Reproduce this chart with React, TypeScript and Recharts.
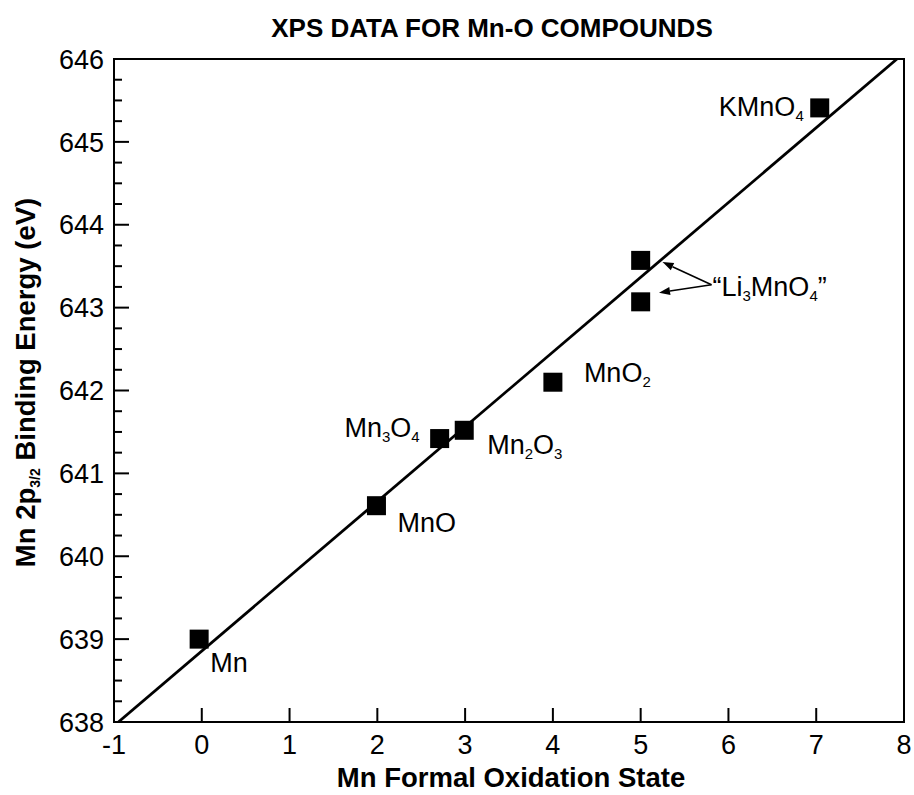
import React from 'react';
import { ScatterChart, Scatter, XAxis, YAxis, ReferenceLine, ReferenceArea, ReferenceDot } from 'recharts';

// ---- data ----
const compounds = ['Mn', 'MnO', 'Mn3O4', 'Mn2O3', 'MnO2', 'Li3MnO4 (a)', 'Li3MnO4 (b)', 'KMnO4'];
const oxidationStates = [-0.03, 1.99, 2.71, 2.99, 4.0, 5.0, 5.0, 7.04];
const bindingEnergies = [639.0, 640.61, 641.42, 641.52, 642.1, 643.57, 643.07, 645.41];

// least-squares line as drawn (end points)
const fitX = [-0.95, 7.92];
const fitY = [638.0, 646.0];

const xTicks = [-1, 0, 1, 2, 3, 4, 5, 6, 7, 8];
const yMajorTicks = [638, 639, 640, 641, 642, 643, 644, 645, 646];

// "Li3MnO4" annotation: label anchor and arrow tips (data units)
const annoAnchor = { x: 5.807, y: 643.277 };
const annoTipsX = [5.249, 5.209];
const annoTipsY = [643.55, 643.18];

const title = 'XPS DATA FOR Mn-O COMPOUNDS';
const xTitle = 'Mn Formal Oxidation State';

// formula text pieces: n = normal, s = subscript
const formulaParts: Record<string, [string, string][]> = {
  Mn: [['Mn', 'n']],
  MnO: [['MnO', 'n']],
  Mn3O4: [['Mn', 'n'], ['3', 's'], ['O', 'n'], ['4', 's']],
  Mn2O3: [['Mn', 'n'], ['2', 's'], ['O', 'n'], ['3', 's']],
  MnO2: [['MnO', 'n'], ['2', 's']],
  KMnO4: [['KMnO', 'n'], ['4', 's']],
};
const annoParts: [string, string][] = [['\u201CLi', 'n'], ['3', 's'], ['MnO', 'n'], ['4', 's'], ['\u201D', 'n']];

// ---- layout / style ----
const W = 914;
const H = 795;
const FONT = '"Liberation Sans", Arial, Helvetica, sans-serif';
const labelPlacement: Record<string, { dx: number; dy: number; anchor: 'start' | 'end' }> = {
  Mn: { dx: 11, dy: 33, anchor: 'start' },
  MnO: { dx: 21, dy: 26, anchor: 'start' },
  Mn3O4: { dx: -20, dy: -2, anchor: 'end' },
  Mn2O3: { dx: 23, dy: 24, anchor: 'start' },
  MnO2: { dx: 31, dy: 0, anchor: 'start' },
  KMnO4: { dx: -16, dy: 8, anchor: 'end' },
};

const points = compounds.map((name, i) => ({ name, x: oxidationStates[i], y: bindingEnergies[i] }));
const fitLine = fitX.map((x, i) => ({ x, y: fitY[i] }));
const yTicks: number[] = [];
yMajorTicks.forEach((m, i) => {
  yTicks.push(m);
  if (i < yMajorTicks.length - 1) {
    yTicks.push(m + 0.25, m + 0.5, m + 0.75);
  }
});

const ChemText = ({ x, y, anchor, parts, size = 27, sub = 15, shiftPx = 5 }: any) => {
  let shift = 0;
  return (
    <text x={x} y={y} textAnchor={anchor} fontSize={size} fontFamily={FONT} fill="#000">
      {parts.map(([t, kind]: [string, string], i: number) => {
        const target = kind === 's' ? shiftPx : 0;
        const dy = target - shift;
        shift = target;
        return (
          <tspan key={i} dy={dy} fontSize={kind === 's' ? sub : size}>
            {t}
          </tspan>
        );
      })}
    </text>
  );
};

const PointShape = (props: any) => {
  const { cx, cy, payload } = props;
  if (cx == null || cy == null) return <g />;
  const key = payload.name as string;
  const place = labelPlacement[key];
  return (
    <g>
      <rect x={cx - 9.5} y={cy - 9.5} width={19} height={19} fill="#000" />
      {place && formulaParts[key] && (
        <ChemText x={cx + place.dx} y={cy + place.dy} anchor={place.anchor} parts={formulaParts[key]} />
      )}
    </g>
  );
};

const YTick = (props: any) => {
  const { x, y, payload } = props;
  const v = payload.value as number;
  const major = Math.abs(v - Math.round(v)) < 1e-6;
  return (
    <g>
      <line x1={x} x2={x + (major ? 15 : 8)} y1={y} y2={y} stroke="#000" strokeWidth={2} />
      {major && (
        <text x={x - 10} y={y} dy="0.36em" textAnchor="end" fontSize={27} fontFamily={FONT} fill="#000">
          {v}
        </text>
      )}
    </g>
  );
};

const XTick = (props: any) => {
  const { x, y, payload } = props;
  return (
    <g>
      <line x1={x} x2={x} y1={y} y2={y - 14} stroke="#000" strokeWidth={2} />
      <text x={x} y={y + 32} textAnchor="middle" fontSize={27} fontFamily={FONT} fill="#000">
        {payload.value}
      </text>
    </g>
  );
};

const Arrow = (props: any) => {
  const { x1, y1, x2, y2 } = props;
  if ([x1, y1, x2, y2].some((v) => v == null || isNaN(v))) return <g />;
  const ang = Math.atan2(y2 - y1, x2 - x1);
  const len = 11;
  const half = 4;
  const bx = x2 - len * Math.cos(ang);
  const by = y2 - len * Math.sin(ang);
  const px = -Math.sin(ang) * half;
  const py = Math.cos(ang) * half;
  return (
    <g>
      <line x1={x1} y1={y1} x2={bx} y2={by} stroke="#000" strokeWidth={1.6} />
      <polygon points={`${x2},${y2} ${bx + px},${by + py} ${bx - px},${by - py}`} fill="#000" />
    </g>
  );
};

const AnnoLabel = (props: any) => {
  const { cx, cy } = props;
  if (cx == null || cy == null) return <g />;
  return <ChemText x={cx + 1} y={cy + 11} anchor="start" parts={annoParts} />;
};

const YLabel = (props: any) => {
  const vb = props.viewBox || { x: 0, y: 59, width: 114, height: 663 };
  const cx = vb.x + 25;
  const cy = vb.y + vb.height / 2 - 8;
  return (
    <text
      x={cx}
      y={cy}
      transform={`rotate(-90, ${cx}, ${cy})`}
      textAnchor="middle"
      dy={10}
      fontSize={27.5}
      fontWeight="bold"
      fontFamily={FONT}
      fill="#000"
    >
      <tspan>Mn 2p</tspan>
      <tspan fontSize={14} dy={5}>3/2</tspan>
      <tspan dy={-5}> Binding Energy (eV)</tspan>
    </text>
  );
};

const XLabel = (props: any) => {
  const vb = props.viewBox || { x: 114, y: 722, width: 790, height: 73 };
  return (
    <text
      x={vb.x + vb.width / 2 + 2}
      y={vb.y + 65}
      textAnchor="middle"
      fontSize={27.5}
      fontWeight="bold"
      fontFamily={FONT}
      fill="#000"
    >
      {xTitle}
    </text>
  );
};

export default function App() {
  return (
    <div style={{ position: 'absolute', left: 0, top: 0, width: W, height: H, background: '#fff' }}>
      <div
        style={{
          position: 'absolute',
          left: 492 - 300,
          width: 600,
          top: 13,
          textAlign: 'center',
          fontFamily: FONT,
          fontWeight: 'bold',
          fontSize: 26,
          lineHeight: '30px',
          color: '#000',
        }}
      >
        {title}
      </div>
      <ScatterChart width={W} height={H} margin={{ top: 59, right: 10, bottom: 0, left: 0 }}>
        <XAxis
          type="number"
          dataKey="x"
          domain={[-1, 8]}
          ticks={xTicks}
          interval={0}
          allowDataOverflow
          height={73}
          tickSize={0}
          tickMargin={0}
          tickLine={false}
          axisLine={false}
          tick={<XTick />}
          label={{ content: (p: any) => <XLabel {...p} /> }}
        />
        <YAxis
          type="number"
          dataKey="y"
          domain={[638, 646]}
          ticks={yTicks}
          interval={0}
          allowDataOverflow
          width={114}
          tickSize={0}
          tickMargin={0}
          tickLine={false}
          axisLine={false}
          tick={<YTick />}
          label={{ content: (p: any) => <YLabel {...p} /> }}
        />
        <ReferenceArea x1={-1} x2={8} y1={638} y2={646} fill="none" stroke="#000" strokeWidth={2} fillOpacity={0} />
        <Scatter
          data={fitLine}
          line={{ stroke: '#000', strokeWidth: 2.8 }}
          lineType="joint"
          shape={() => <g />}
          isAnimationActive={false}
        />
        <Scatter data={points} shape={<PointShape />} isAnimationActive={false} />
        {annoTipsX.map((tx, i) => (
          <ReferenceLine
            key={i}
            segment={[
              { x: annoAnchor.x, y: annoAnchor.y },
              { x: tx, y: annoTipsY[i] },
            ]}
            stroke="#000"
            shape={<Arrow />}
          />
        ))}
        <ReferenceDot x={annoAnchor.x} y={annoAnchor.y} r={0} shape={<AnnoLabel />} />
      </ScatterChart>
    </div>
  );
}
